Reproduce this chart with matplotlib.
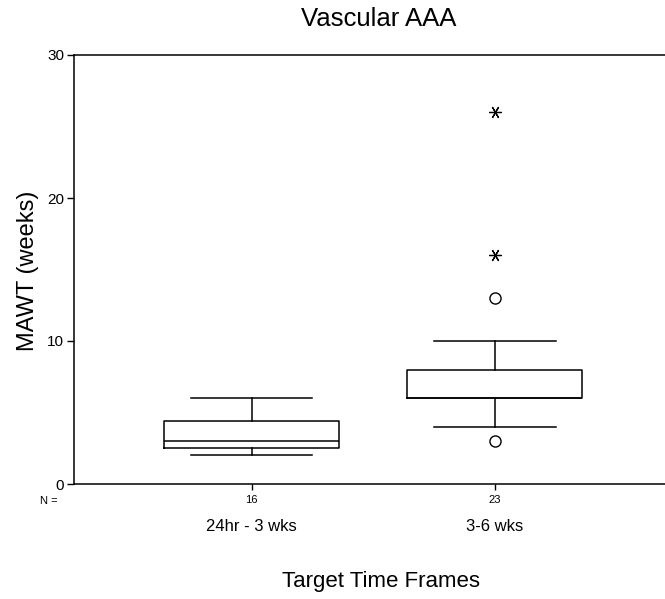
import matplotlib
matplotlib.use('Agg')
import matplotlib.pyplot as plt

plt.rcParams['font.family'] = ['Liberation Sans', 'DejaVu Sans']

# box statistics
groups = ["24hr - 3 wks", "3-6 wks"]
counts = [16, 23]
q1 = [2.5, 6.0]
med = [3.0, 6.0]
q3 = [4.4, 8.0]
whislo = [2.0, 4.0]
whishi = [6.0, 10.0]
# outliers (circles) and extremes (stars)
out_x = [2, 2]
out_y = [13.0, 3.0]
ext_x = [2, 2]
ext_y = [16.0, 26.0]

stats = []
for i in range(len(groups)):
    stats.append({"label": groups[i], "q1": q1[i], "med": med[i], "q3": q3[i],
                  "whislo": whislo[i], "whishi": whishi[i], "fliers": []})

fig = plt.figure(figsize=(6.65, 5.99), dpi=100)
ax = fig.add_axes([74/665, 1-484/599, 1-74/665, (484-55)/599])

lw = 1.1
ax.bxp(stats, positions=[1, 2], widths=0.72, showfliers=False,
       boxprops=dict(color='black', linewidth=lw),
       medianprops=dict(color='black', linewidth=lw),
       whiskerprops=dict(color='black', linewidth=lw),
       capprops=dict(color='black', linewidth=lw),
       capwidths=0.5)

ax.plot(out_x, out_y, linestyle='none', marker='o', markersize=8,
        markerfacecolor='none', markeredgecolor='black', markeredgewidth=1.0)
ax.plot(ext_x, ext_y, linestyle='none', marker=(6, 2, 90), markersize=9,
        color='black', markeredgewidth=0.9)

ax.set_xlim(0.27, 2.70)
ax.set_ylim(0, 30)
ax.set_yticks([0, 10, 20, 30])
ax.tick_params(axis='y', labelsize=11, length=5, width=1, pad=2)
ax.set_xticks([1, 2])
ax.set_xticklabels([str(c) for c in counts], fontsize=8)
ax.tick_params(axis='x', length=4, width=1, pad=4)
ax.spines['right'].set_visible(False)
for s in ['left', 'top', 'bottom']:
    ax.spines[s].set_linewidth(1.1)

for i in range(len(groups)):
    ax.text(i + 1, -0.1, groups[i], transform=ax.get_xaxis_transform(),
            ha='center', va='center', fontsize=12)

fig.text(40/665, 1-501/599, "N =", ha='left', va='center', fontsize=8)
fig.text(28/665, 1-271/599, "MAWT (weeks)", rotation=90, ha='center', va='center', fontsize=17)
fig.text(379/665, 1-19/599, "Vascular AAA", ha='center', va='center', fontsize=18.5)
fig.text(381/665, 1-582/599, "Target Time Frames", ha='center', va='center', fontsize=16)

fig.savefig("out.png", dpi=100)
